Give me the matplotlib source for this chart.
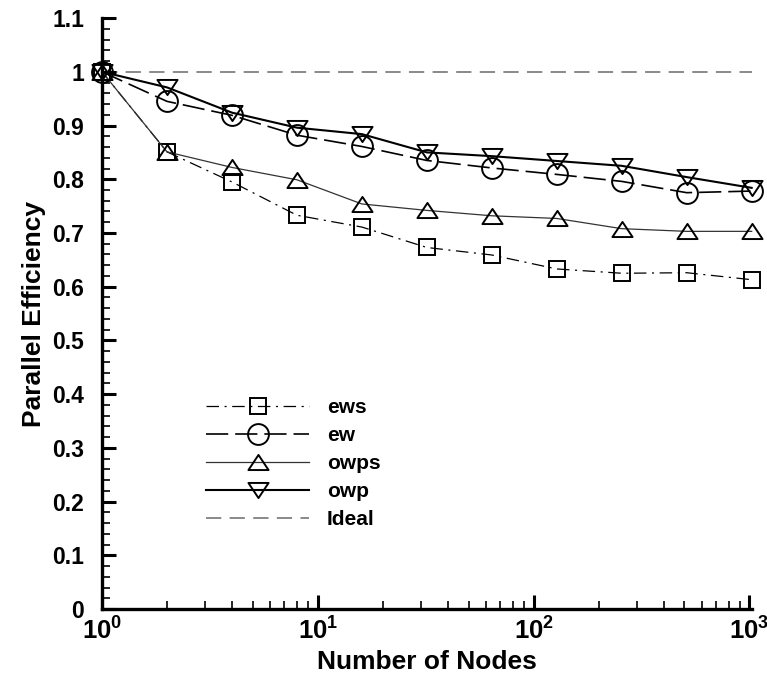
import math
import matplotlib
matplotlib.use("Agg")
import matplotlib.pyplot as plt
from matplotlib.path import Path
from matplotlib.ticker import FixedLocator, FuncFormatter, MultipleLocator, LogLocator, NullFormatter

plt.rcParams['font.family'] = ['Liberation Sans', 'DejaVu Sans']
plt.rcParams['font.weight'] = 'bold'
plt.rcParams['lines.scale_dashes'] = False
plt.rcParams['mathtext.fontset'] = 'custom'
plt.rcParams['mathtext.bf'] = 'Liberation Sans:bold'
plt.rcParams['mathtext.rm'] = 'Liberation Sans:bold'
plt.rcParams['mathtext.default'] = 'bf'

nodes = [1, 2, 4, 8, 16, 32, 64, 128, 256, 512, 1024]
ews = [1.0, 0.851, 0.795, 0.733, 0.711, 0.673, 0.659, 0.633, 0.625, 0.626, 0.613]
ew = [1.0, 0.945, 0.919, 0.882, 0.861, 0.835, 0.821, 0.809, 0.796, 0.775, 0.778]
owps = [1.0, 0.851, 0.822, 0.799, 0.754, 0.742, 0.732, 0.727, 0.708, 0.703, 0.703]
owp = [1.0, 0.971, 0.924, 0.896, 0.884, 0.850, 0.843, 0.834, 0.825, 0.804, 0.784]
ideal_x = [1, 1024]
ideal_y = [1.0, 1.0]

fig = plt.figure(figsize=(7.67, 6.8), dpi=100)
ax = fig.add_axes([0.133, 0.1044, 0.847, 0.869])

codes = [Path.MOVETO, Path.LINETO, Path.LINETO, Path.CLOSEPOLY]
tri_up = Path([(0, 0.75), (-1, -0.75), (1, -0.75), (0, 0.75)], codes)
tri_dn = Path([(0, -0.75), (-1, 0.75), (1, 0.75), (0, -0.75)], codes)

l0, = ax.plot(ideal_x, ideal_y, color='#808080', lw=1.3, dashes=(11, 6), label='Ideal', zorder=1)
l1, = ax.plot(nodes, ews, color='black', lw=0.9, dashes=(9, 4, 1.5, 4),
              marker='s', ms=11.5, mfc='none', mec='black', mew=1.4, label='ews', clip_on=False)
l2, = ax.plot(nodes, ew, color='black', lw=1.2, dashes=(16, 5),
              marker='o', ms=15, mfc='none', mec='black', mew=1.4, label='ew', clip_on=False)
l3, = ax.plot(nodes, owps, color='#333333', lw=0.9, linestyle='-',
              marker=tri_up, ms=14.5, mfc='none', mec='black', mew=1.4, label='owps', clip_on=False)
l4, = ax.plot(nodes, owp, color='black', lw=1.5, linestyle='-',
              marker=tri_dn, ms=14.5, mfc='none', mec='black', mew=1.4, label='owp', clip_on=False)

ax.set_xscale('log')
ax.set_xlim(1, 1024)
ax.set_ylim(0, 1.1)

ax.xaxis.set_major_locator(FixedLocator([1, 10, 100, 1000]))
ax.xaxis.set_minor_locator(LogLocator(base=10, subs=range(2, 10), numticks=20))
ax.xaxis.set_minor_formatter(NullFormatter())
ax.xaxis.set_major_formatter(FuncFormatter(lambda v, p: r'$\mathbf{10^{%d}}$' % round(math.log10(v))))

ax.yaxis.set_major_locator(MultipleLocator(0.1))
ax.yaxis.set_minor_locator(MultipleLocator(0.02))
ax.yaxis.set_major_formatter(FuncFormatter(lambda v, p: '%g' % round(v, 1)))

for s in ['top', 'right']:
    ax.spines[s].set_visible(False)
for s in ['left', 'bottom']:
    ax.spines[s].set_linewidth(2.4)

ax.tick_params(which='major', direction='in', length=10, width=2.2)
ax.tick_params(which='minor', direction='in', length=6, width=1.2)
ax.tick_params(axis='y', which='major', pad=13, labelsize=16.5)
ax.tick_params(axis='x', which='major', pad=6, labelsize=18.5)

for lab in ax.get_yticklabels():
    lab.set_fontweight('bold')

ax.set_xlabel('Number of Nodes', fontsize=19, fontweight='bold', labelpad=4)
ax.set_ylabel('Parallel Efficiency', fontsize=19, fontweight='bold', labelpad=4)

leg = fig.legend(handles=[l1, l2, l3, l4, l0], loc='upper left',
                 bbox_to_anchor=(206 / 767, 1 - 398 / 680), bbox_transform=fig.transFigure,
                 frameon=False, fontsize=15, borderpad=0, borderaxespad=0,
                 handlelength=4.95, handletextpad=0.85, labelspacing=0.43)
for t in leg.get_texts():
    t.set_fontweight('bold')

fig.savefig('out.png', dpi=100)
